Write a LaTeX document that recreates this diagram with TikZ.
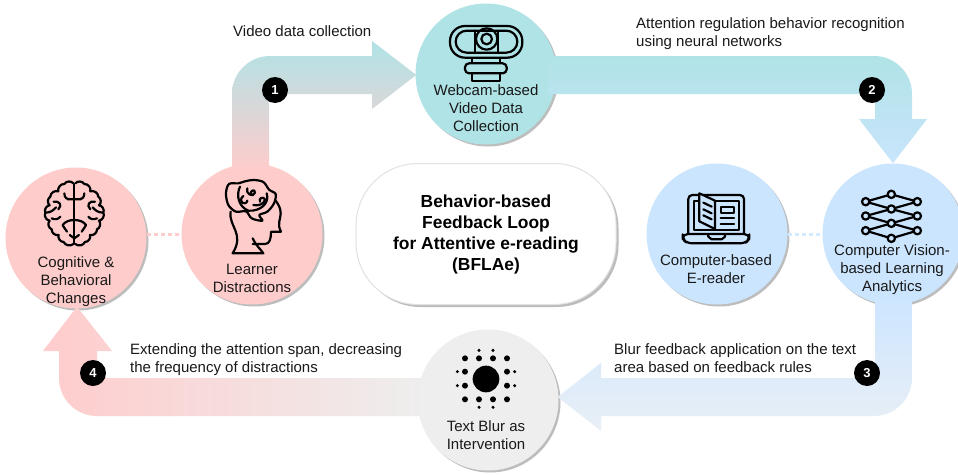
\documentclass[tikz,border=0pt]{standalone}
\usepackage{fontspec}
\setmainfont{Liberation Sans}
\usetikzlibrary{calc,shadows,shapes.misc}
\definecolor{cteal}{HTML}{B0E3E6}
\definecolor{cpink}{HTML}{FFCCCC}
\definecolor{cblue}{HTML}{CCE5FF}
\definecolor{cgray}{HTML}{EEEEEE}
\definecolor{cshadow}{HTML}{BDBDBD}
\definecolor{cedge}{HTML}{E2E2E2}
\tikzset{
  stage/.style={circle,minimum size=141pt,inner sep=0pt,
    drop shadow={shadow xshift=2pt,shadow yshift=-2pt,opacity=1,fill=cshadow}},
  txt/.style={font=\fontsize{15}{18}\selectfont,align=center,inner sep=0pt,text=black!90},
  lefttxt/.style={txt,align=left,anchor=north west},
  badge/.style={circle,fill=black,minimum size=26pt,inner sep=0pt,text=white,font=\bfseries\fontsize{13}{13}\selectfont},
  link/.style={line width=3pt,dash pattern=on 4pt off 3pt},
  iconb/.style={line width=2.2pt,draw=black,line join=round,line cap=round},
}
\begin{document}
\begin{tikzpicture}[x=1pt,y=-1pt]
\useasboundingbox (0,0) rectangle (958,474);
\fill[white] (0,0) rectangle (958,474);
% stages
\node[stage,fill=cpink] (changes) at (76,238) {};
\node[stage,fill=cpink] (learner) at (252,234) {};
\node[stage,fill=cteal] (webcam) at (486,74) {};
\node[stage,fill=cblue] (reader) at (717,234) {};
\node[stage,fill=cblue] (cv) at (893,234) {};
\node[stage,fill=cgray] (blur) at (488,400) {};
\node[rectangle,rounded corners=62pt,minimum width=260pt,minimum height=141pt,inner sep=0pt,
  fill=white,draw=cedge,line width=1pt,align=center,
  font=\bfseries\fontsize{17.4}{21}\selectfont,
  drop shadow={shadow xshift=2.5pt,shadow yshift=-2.5pt,opacity=1,fill=cshadow}]
  (title) at (486,234) {Behavior-based\\Feedback Loop\\for Attentive e-reading\\(BFLAe)};
% dotted links
\draw[link,cpink] (changes.east |- learner.west) -- (learner.west);
\draw[link,cblue!80!white] (reader.east) -- (cv.west);
% arrows
\shade[top color=cteal,bottom color=cpink]
  ($(learner.center)+(-20,-64)$) [rounded corners=38pt] -- (232,56) [sharp corners] -- (372,56) -- (372,41)
  -- ($(webcam.west)+(1,1)$) -- (372,109) -- (372,94) -- (269,94) -- ($(learner.center)+(17,-64)$) -- cycle;
\shade[top color=cteal,middle color=cteal,bottom color=cblue!90!cteal]
  ($(webcam.center)+(62,-18)$) [rounded corners=38pt] -- (912,56) [sharp corners] -- (912,119) -- (927,119)
  -- (cv.north) -- (859,119) -- (875,119) -- (875,94) -- ($(webcam.center)+(62,20)$) -- cycle;
\shade[top color=cblue,bottom color=cgray!70!cblue!80!white]
  ($(cv.center)+(19,61)$) [rounded corners=38pt] -- (912,416) [sharp corners] -- (601,416) -- (601,431)
  -- ($(blur.east)+(-1,-3)$) -- (601,363) -- (601,378) -- (875,378) -- ($(cv.center)+(-18,61)$) -- cycle;
\shade[left color=cpink,right color=cgray]
  ($(blur.center)+(-63,16)$) [rounded corners=38pt] -- (59,416) [sharp corners] -- (59,351) -- (43,351)
  -- ($(changes.south)+(1,-2)$) -- (112,351) -- (97,351) -- (97,378) -- ($(blur.center)+(-63,-22)$) -- cycle;
% stage texts
\node[txt] (t1) at (76,281.5) {Cognitive \&\\Behavioral\\Changes};
\node[txt] (t2) at (252,278) {Learner\\Distractions};
\node[txt] (t3) at (486,108.5) {Webcam-based\\Video Data\\Collection};
\node[txt] (t4) at (716,269.5) {Computer-based\\E-reader};
\node[txt] (t5) at (892,269.5) {Computer Vision-\\based Learning\\Analytics};
\node[txt] (t6) at (486,435) {Text Blur as\\Intervention};
% edge labels
\node[lefttxt] (l1) at (233,25) {Video data collection};
\node[lefttxt] (l2) at (636,17) {Attention regulation behavior recognition\\using neural networks};
\node[lefttxt] (l3) at (130,343) {Extending the attention span, decreasing\\the frequency of distractions};
\node[lefttxt] (l4) at (614,343) {Blur feedback application on the text\\area based on feedback rules};
% badges
\node[badge] (b1) at (275,90) {1};
\node[badge] (b2) at (872,90) {2};
\node[badge] (b3) at (867,373) {3};
\node[badge] (b4) at (93,373) {4};
% brain icon
\begin{scope}[shift={(30,170)},scale=0.3333]
\foreach \s/\b in {1/right,-1/left}{
  \draw[iconb] (133+\s*-3,40) to[bend \b=55] (133+\s*-30,42) to[bend \b=55] (133+\s*-48,64)
    to[bend \b=55] (133+\s*-72,80) to[bend \b=55] (133+\s*-74,106) to[bend \b=55] (133+\s*-87,128)
    to[bend \b=55] (133+\s*-74,152) to[bend \b=55] (133+\s*-68,178) to[bend \b=55] (133+\s*-47,195)
    to[bend \b=55] (133+\s*-32,216) to[bend \b=55] (133+\s*-3,222);
  \draw[iconb] (133,88) -- (133+\s*-20,88) (133+\s*-30,70) .. controls (133+\s*-30,85) and (133+\s*-20,88) .. (133+\s*-15,88);
  \draw[iconb] (133+\s*-62,95) .. controls (133+\s*-45,92) and (133+\s*-35,105) .. (133+\s*-48,118)
     (133+\s*-87,128) .. controls (133+\s*-70,128) and (133+\s*-62,120) .. (133+\s*-55,112);
  \draw[iconb] (133,150) .. controls (133+\s*-15,150) and (133+\s*-28,155) .. (133+\s*-35,165)
     .. controls (133+\s*-30,175) and (133+\s*-25,180) .. (133+\s*-22,185)
     (133+\s*-68,145) .. controls (133+\s*-58,150) and (133+\s*-48,148) .. (133+\s*-42,140);
  \draw[iconb] (133,205) -- (133+\s*-14,195);
}
\draw[iconb] (133,42) -- (133,222);
\end{scope}
% head icon
\begin{scope}[shift={(210,170)},scale=0.3333]
\draw[iconb] (62,125) .. controls (55,170) and (105,190) .. (68,250) -- (160,250)
  .. controls (150,235) and (140,230) .. (128,205);
\draw[iconb] (128,222) -- (165,222) .. controls (180,222) and (183,205) .. (183,185) -- (213,185)
  .. controls (200,160) and (212,150) .. (212,130) .. controls (212,115) and (205,100) .. (193,88);
\draw[iconb,fill=cpink] plot[smooth cycle,tension=0.55] coordinates {(48,70) (57,42) (85,40) (105,34) (130,30) (160,36) (178,60) (197,72) (192,100) (172,125) (148,135) (157,152) (125,145) (108,124) (78,125) (55,105)};
\draw[iconb] (90,50) .. controls (78,75) and (85,110) .. (115,122) .. controls (150,125) and (180,100) .. (170,70);
\draw[iconb] (112,55) .. controls (105,70) and (130,85) .. (135,68) .. controls (135,55) and (120,62) .. (123,72);
\draw[iconb] (100,78) .. controls (80,95) and (108,110) .. (112,92);
\draw[iconb] (130,105) .. controls (145,110) and (165,100) .. (165,88) .. controls (160,78) and (145,85) .. (150,95);
\end{scope}
% webcam icon
\begin{scope}[shift={(435,10)},scale=0.3333]
\draw[iconb] (45,48) [rounded corners=15pt] rectangle (262,143);
\draw[iconb] (62,62) [rounded corners=11pt] rectangle (247,128);
\draw[iconb] (120,62) -- (120,128) (190,62) -- (190,128);
\draw[iconb] (155,87) circle[radius=32] (155,87) circle[radius=16];
\draw[iconb] (112,143) rectangle (195,160);
\draw[iconb] (90,160) [rounded corners=4pt] rectangle (215,190);
\draw[iconb] (112,190) rectangle (195,212);
\end{scope}
% laptop icon
\begin{scope}[shift={(670,180)},scale=0.3333]
\draw[iconb] (55,160) [rounded corners=4pt] -- (55,45) -- (222,45) -- (222,160);
\draw[iconb] (72,150) -- (72,62) -- (208,62) -- (208,150) -- cycle;
\draw[iconb] (38,162) [rounded corners=5pt] -- (238,162) -- (238,178) -- (225,190) -- (52,190) -- (38,178) -- cycle;
\draw[iconb] (115,164) -- (115,170) -- (125,178) -- (155,178) -- (165,170) -- (165,164);
\draw[iconb,fill=cblue] (88,40) -- (135,62) -- (135,147) -- (88,124) -- cycle;
\draw[iconb] (100,68) -- (125,80) (100,88) -- (125,100) (100,106) -- (125,118);
\draw[iconb] (152,80) rectangle (192,100) (152,115) -- (192,115) (152,132) -- (192,132);
\end{scope}
% network icon
\begin{scope}[shift={(850,180)},scale=0.3333]
\foreach \y/\a/\c in {65/43/87,108/87/130,152/130/175}{
  \draw[iconb] (47,\y) -- (124,\a) (47,\y) -- (124,\c) (202,\y) -- (124,\a) (202,\y) -- (124,\c);
}
\foreach \x/\y in {47/65,47/108,47/152,202/65,202/108,202/152,124/43,124/87,124/130,124/175}{
  \draw[iconb,fill=cblue] (\x,\y) circle[radius=11];
}
\end{scope}
% blur icon
\begin{scope}[shift={(445,335)},scale=0.3333]
\fill[black] (123,132) circle[radius=40];
\foreach \x/\y in {60/70,102/70,144/70,186/70,60/110,186/110,60/152,186/152,60/193,102/193,144/193,186/193}{
  \fill[black] (\x,\y) circle[radius=9];
}
\foreach \x/\y in {102/46,144/46,102/217,144/217,37/110,37/152,209/110,209/152}{
  \fill[black] (\x,\y) circle[radius=5];
}
\end{scope}
\end{tikzpicture}
\end{document}
